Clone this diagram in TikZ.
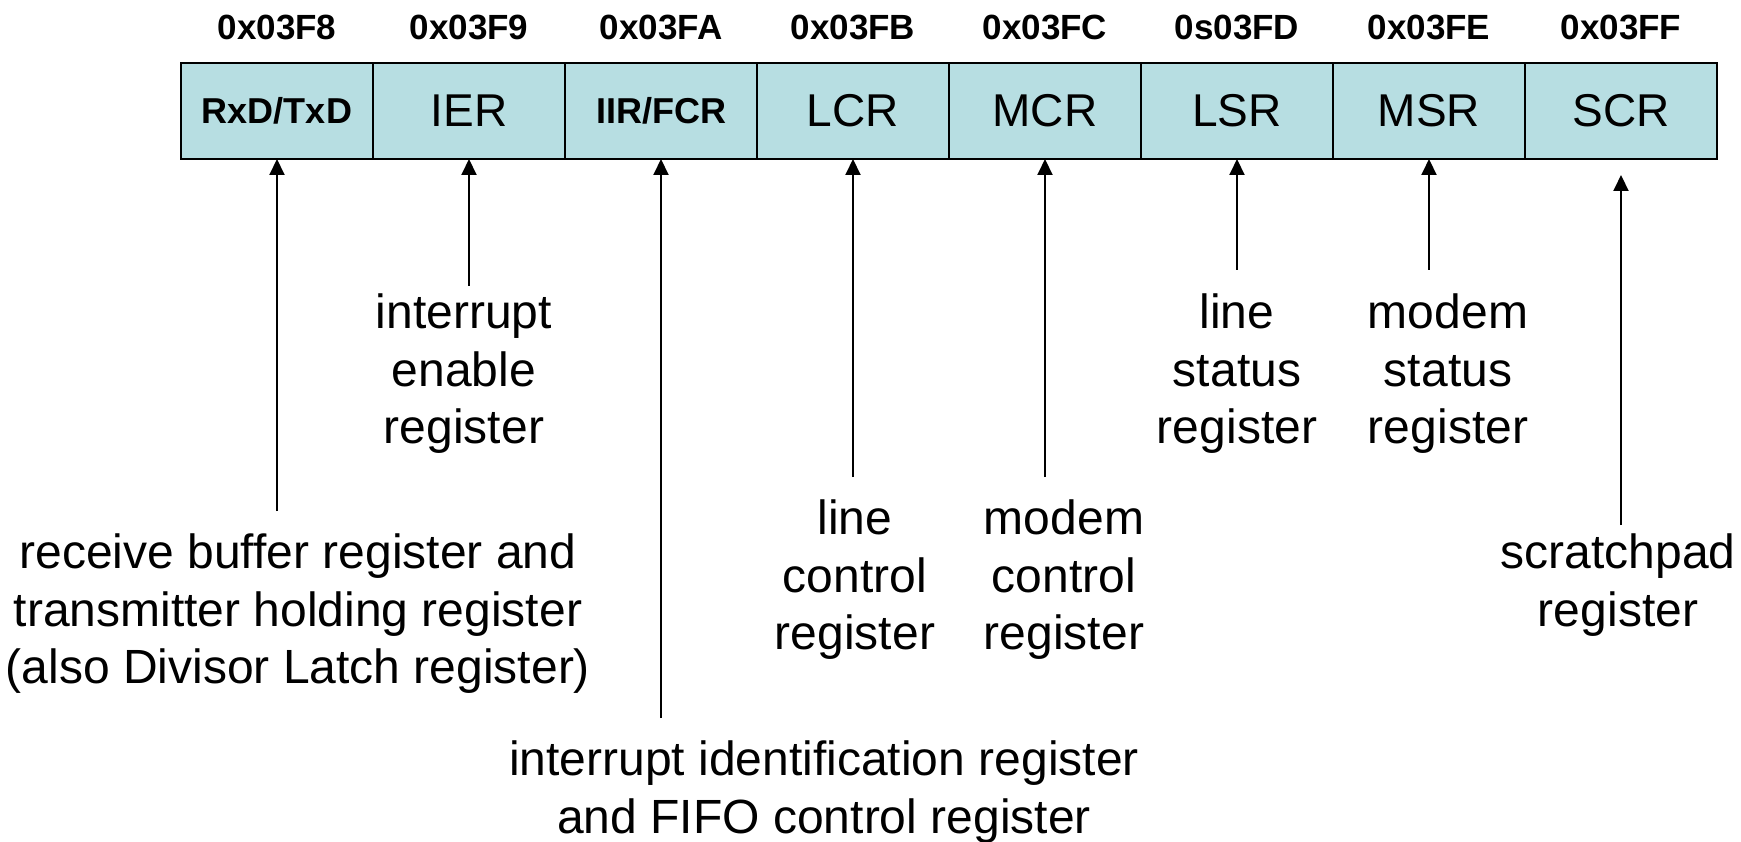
\documentclass[tikz,border=0pt]{standalone}
\usepackage{fontspec}
\setmainfont{Liberation Sans}
\usetikzlibrary{arrows.meta,positioning}
\definecolor{regfill}{RGB}{183,222,226}

\begin{document}
\begin{tikzpicture}[x=1pt,y=-1pt,
  reg/.style={draw,fill=regfill,line width=2.5pt,minimum width=192pt,minimum height=96pt,inner sep=0pt,outer sep=0pt,font=\fontsize{46}{50}\selectfont},
  regb/.style={reg,font=\fontsize{36}{40}\selectfont\bfseries},
  addr/.style={inner sep=0pt,font=\fontsize{35}{40}\selectfont\bfseries},
  note/.style={anchor=north,align=center,inner sep=0pt,font=\fontsize{48}{57.5}\selectfont},
  ptr/.style={-{Triangle[length=16pt,width=15pt]},line width=2pt}]
\useasboundingbox (0,0) rectangle (1741,842);
% register row
\node[regb] (b1) at (277,111) {RxD/TxD};
\node[reg,right=0pt of b1] (b2) {IER};
\node[regb,right=0pt of b2] (b3) {IIR/FCR};
\node[reg,right=0pt of b3] (b4) {LCR};
\node[reg,right=0pt of b4] (b5) {MCR};
\node[reg,right=0pt of b5] (b6) {LSR};
\node[reg,right=0pt of b6] (b7) {MSR};
\node[reg,right=0pt of b7] (b8) {SCR};
\foreach \b/\a in {1/0x03F8,2/0x03F9,3/0x03FA,4/0x03FB,5/0x03FC,6/0s03FD,7/0x03FE,8/0x03FF}
  \node[addr,above=23pt of b\b] (a\b) {\a};
% descriptions
\node[note] (n1) at (298,534) {receive buffer register and\\transmitter holding register\\(also Divisor Latch register)};
\node[note] (n2) at (464,294) {interrupt\\enable\\register};
\node[note] (n3) at (824,741) {interrupt identification register\\and FIFO control register};
\node[note] (n4) at (855,500) {line\\control\\register};
\node[note] (n5) at (1064,500) {modem\\control\\register};
\node[note] (n6) at (1237,294) {line\\status\\register};
\node[note] (n7) at (1448,294) {modem\\status\\register};
\node[note] (n8) at (1618,534) {scratchpad\\register};
% pointers
\foreach \b/\d in {1/352,2/127,3/559,4/318,5/318,6/111,7/111} {
  \path (b\b.south) ++(0,\d) coordinate (t\b);
  \draw[ptr] (t\b) -- (b\b.south);
}
\path (b8.south) ++(0,366) coordinate (t8);
\draw[ptr,shorten >=16pt] (t8) -- (b8.south);
\end{tikzpicture}
\end{document}
